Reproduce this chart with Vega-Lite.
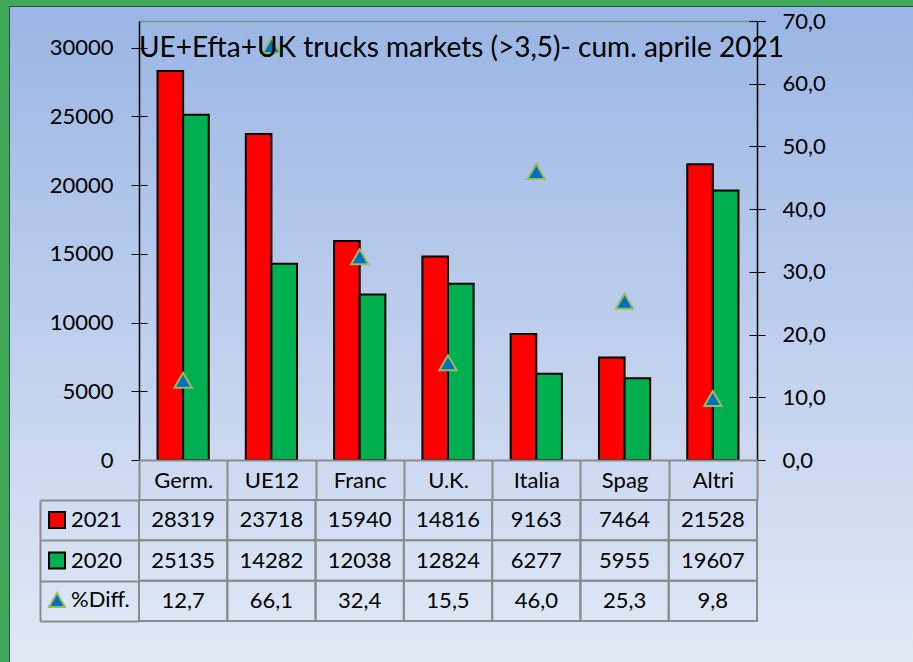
{
  "$schema": "https://vega.github.io/schema/vega-lite/v6.json",
  "width": 904,
  "height": 656,
  "autosize": {"type": "none"},
  "padding": {"left": 9, "top": 6, "right": 0, "bottom": 0},
  "background": "#41a95a",
  "view": {
    "fill": {"gradient": "linear", "x1": 0, "y1": 0, "x2": 0, "y2": 1, "stops": [{"offset": 0, "color": "#9ab5e4"}, {"offset": 1, "color": "#e2e9f6"}]},
    "stroke": "#2d4b4b",
    "strokeWidth": 1
  },
  "title": {
    "text": "UE+Efta+UK trucks markets (>3,5)- cum. aprile 2021",
    "anchor": "start",
    "frame": "group",
    "offset": -57,
    "dx": 130,
    "fontSize": 28,
    "font": "Lato",
    "fontWeight": "normal",
    "color": "black"
  },
  "config": {
    "font": "Lato",
    "locale": {"number": {"decimal": ",", "thousands": ".", "grouping": [3], "currency": ["", " €"]}},
    "axis": {"grid": false, "labelFont": "Lato", "labelFontSize": 22, "labelColor": "black", "title": null},
    "legend": {"labelFont": "Lato", "labelFontSize": 22, "labelColor": "black"}
  },
  "data": {
    "values": [
      {"cat": "Germ.", "series": "2021", "value": 28319},
      {"cat": "Germ.", "series": "2020", "value": 25135},
      {"cat": "Germ.", "series": "%Diff.", "value": 12.7},
      {"cat": "UE12", "series": "2021", "value": 23718},
      {"cat": "UE12", "series": "2020", "value": 14282},
      {"cat": "UE12", "series": "%Diff.", "value": 66.1},
      {"cat": "Franc", "series": "2021", "value": 15940},
      {"cat": "Franc", "series": "2020", "value": 12038},
      {"cat": "Franc", "series": "%Diff.", "value": 32.4},
      {"cat": "U.K.", "series": "2021", "value": 14816},
      {"cat": "U.K.", "series": "2020", "value": 12824},
      {"cat": "U.K.", "series": "%Diff.", "value": 15.5},
      {"cat": "Italia", "series": "2021", "value": 9163},
      {"cat": "Italia", "series": "2020", "value": 6277},
      {"cat": "Italia", "series": "%Diff.", "value": 46.0},
      {"cat": "Spag", "series": "2021", "value": 7464},
      {"cat": "Spag", "series": "2020", "value": 5955},
      {"cat": "Spag", "series": "%Diff.", "value": 25.3},
      {"cat": "Altri", "series": "2021", "value": 21528},
      {"cat": "Altri", "series": "2020", "value": 19607},
      {"cat": "Altri", "series": "%Diff.", "value": 9.8}
    ]
  },
  "resolve": {
    "scale": {"x": "independent", "y": "independent"},
    "axis": {"x": "independent", "y": "independent"}
  },
  "layer": [
    {
      "transform": [{"filter": "datum.series !== '%Diff.'"}],
      "mark": {"type": "bar", "stroke": "black", "strokeWidth": 2},
      "encoding": {
        "x": {
          "field": "cat", "type": "nominal",
          "scale": {"domain": ["Germ.", "UE12", "Franc", "U.K.", "Italia", "Spag", "Altri"], "range": [130, 748], "paddingInner": 0.42, "paddingOuter": 0.21},
          "axis": {"orient": "top", "offset": -15, "domainColor": "#8c8c8c", "domainWidth": 1.5, "ticks": false, "labels": false}
        },
        "xOffset": {"field": "series", "type": "nominal", "scale": {"domain": ["2021", "2020"], "paddingInner": 0, "paddingOuter": 0}},
        "y": {
          "field": "value", "type": "quantitative",
          "scale": {"domain": [0, 31950], "range": [454, 15], "nice": false, "zero": false},
          "axis": {"orient": "left", "offset": -130, "values": [0, 5000, 10000, 15000, 20000, 25000, 30000], "format": "d", "tickSize": 8, "tickColor": "black", "tickWidth": 1, "domainColor": "black", "domainWidth": 1.5, "labelPadding": 18}
        },
        "color": {
          "field": "series", "type": "nominal",
          "scale": {"domain": ["2021", "2020", "%Diff."], "range": ["#ff0000", "#00b050", "#0070c0"]},
          "legend": {
            "orient": "none", "legendX": 37, "legendY": 503, "title": null, "padding": 0,
            "symbolSize": 256, "symbolStrokeWidth": 2, "labelOffset": 3, "rowPadding": 16.5,
            "symbolType": {"expr": "datum.value === '%Diff.' ? 'triangle-up' : 'square'"},
            "symbolStrokeColor": {"expr": "datum.value === '%Diff.' ? '#9bbb59' : '#000000'"}
          }
        }
      }
    },
    {
      "transform": [{"filter": "datum.series !== '%Diff.'"}],
      "mark": {"type": "point", "opacity": 0},
      "encoding": {
        "y": {
          "field": "value", "type": "quantitative",
          "scale": {"domain": [0, 31950], "range": [454, 15], "nice": false, "zero": false},
          "axis": {"orient": "left", "offset": -130, "values": [0, 5000, 10000, 15000, 20000, 25000, 30000], "tickSize": -8, "tickColor": "black", "tickWidth": 1, "labels": false, "domain": false}
        }
      }
    },
    {
      "transform": [{"filter": "datum.series === '%Diff.'"}],
      "mark": {"type": "point", "shape": "triangle-up", "filled": true, "size": 300, "fill": "#0070c0", "stroke": "#9bbb59", "strokeWidth": 2, "opacity": 1},
      "encoding": {
        "x": {
          "field": "cat", "type": "nominal",
          "scale": {"domain": ["Germ.", "UE12", "Franc", "U.K.", "Italia", "Spag", "Altri"], "range": [130, 748], "paddingInner": 0.42, "paddingOuter": 0.21},
          "axis": null
        },
        "y": {
          "field": "value", "type": "quantitative",
          "scale": {"domain": [0, 70], "range": [454, 15], "nice": false, "zero": false},
          "axis": {"orient": "right", "offset": -156, "values": [0, 10, 20, 30, 40, 50, 60, 70], "format": ".1f", "tickSize": 8, "tickColor": "black", "tickWidth": 1, "domainColor": "black", "domainWidth": 1.5, "labelPadding": 17}
        }
      }
    },
    {
      "transform": [{"filter": "datum.series === '%Diff.'"}],
      "mark": {"type": "point", "opacity": 0},
      "encoding": {
        "y": {
          "field": "value", "type": "quantitative",
          "scale": {"domain": [0, 70], "range": [454, 15], "nice": false, "zero": false},
          "axis": {"orient": "right", "offset": -156, "values": [0, 10, 20, 30, 40, 50, 60, 70], "tickSize": -8, "tickColor": "black", "tickWidth": 1, "labels": false, "domain": false}
        }
      }
    },
    {
      "mark": {"type": "rect", "fill": "white", "fillOpacity": 0, "stroke": "#8c8c8c", "strokeWidth": 2},
      "encoding": {
        "x": {
          "field": "cat", "type": "nominal",
          "scale": {"domain": ["Germ.", "UE12", "Franc", "U.K.", "Italia", "Spag", "Altri"], "range": [130, 748], "paddingInner": 0, "paddingOuter": 0},
          "axis": {"orient": "bottom", "offset": -202, "tickBand": "extent", "tickSize": 40, "tickColor": "#8c8c8c", "tickWidth": 2, "domainColor": "#8c8c8c", "domainWidth": 2, "labelPadding": -20, "labelBaseline": "middle", "labelAngle": 0}
        },
        "y": {
          "field": "series", "type": "nominal",
          "scale": {"domain": ["2021", "2020", "%Diff."], "range": [494, 615], "paddingInner": 0, "paddingOuter": 0},
          "axis": {"orient": "left", "offset": -31, "tickBand": "extent", "tickSize": -99, "tickColor": "#8c8c8c", "tickWidth": 2, "domainColor": "#8c8c8c", "domainWidth": 2, "labels": false}
        }
      }
    },
    {
      "transform": [{"filter": "datum.series !== '%Diff.'"}],
      "mark": {"type": "text", "fontSize": 22, "font": "Lato", "color": "black", "baseline": "middle"},
      "encoding": {
        "x": {
          "field": "cat", "type": "nominal",
          "scale": {"domain": ["Germ.", "UE12", "Franc", "U.K.", "Italia", "Spag", "Altri"], "range": [130, 748], "paddingInner": 0, "paddingOuter": 0},
          "axis": null
        },
        "y": {
          "field": "series", "type": "nominal",
          "scale": {"domain": ["2021", "2020", "%Diff."], "range": [494, 615], "paddingInner": 0, "paddingOuter": 0},
          "axis": null
        },
        "text": {"field": "value", "type": "quantitative", "format": "d"}
      }
    },
    {
      "transform": [{"filter": "datum.series === '%Diff.'"}],
      "mark": {"type": "text", "fontSize": 22, "font": "Lato", "color": "black", "baseline": "middle"},
      "encoding": {
        "x": {
          "field": "cat", "type": "nominal",
          "scale": {"domain": ["Germ.", "UE12", "Franc", "U.K.", "Italia", "Spag", "Altri"], "range": [130, 748], "paddingInner": 0, "paddingOuter": 0},
          "axis": null
        },
        "y": {
          "field": "series", "type": "nominal",
          "scale": {"domain": ["2021", "2020", "%Diff."], "range": [494, 615], "paddingInner": 0, "paddingOuter": 0},
          "axis": null
        },
        "text": {"field": "value", "type": "quantitative", "format": ".1f"}
      }
    }
  ]
}
